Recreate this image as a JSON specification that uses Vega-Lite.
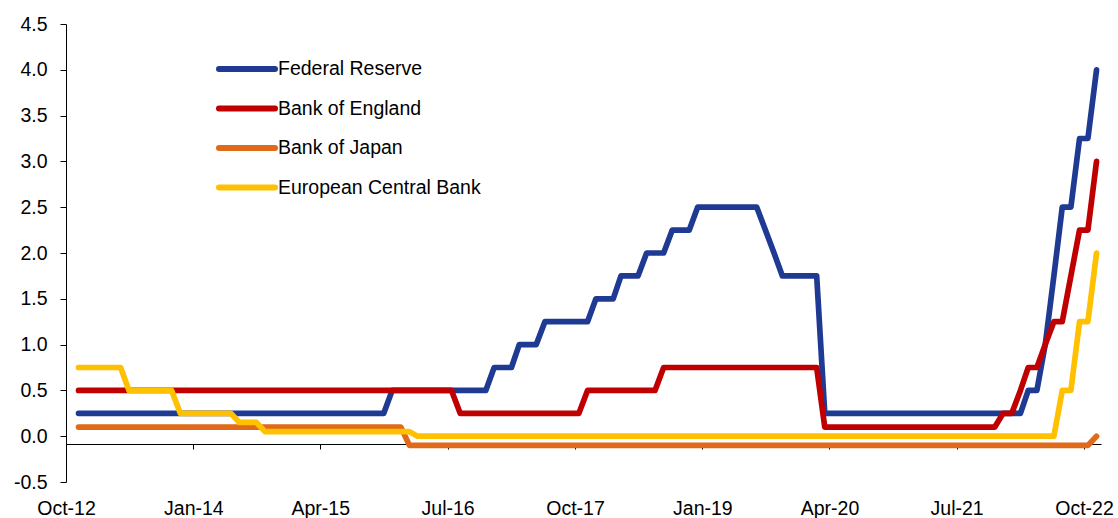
{
 "$schema": "https://vega.github.io/schema/vega-lite/v6.json",
 "width": 1035, "height": 458,
 "autosize": {"type": "none"},
 "padding": {"left": 66, "top": 24, "right": 17, "bottom": 36},
 "background": "white",
 "config": {"view": {"stroke": null}, "font": "Liberation Sans"},
 "data": {"values": [
  {"month":"2012-11-15","fed":0.25,"boe":0.5,"boj":0.1,"ecb":0.75},
  {"month":"2012-12-15","fed":0.25,"boe":0.5,"boj":0.1,"ecb":0.75},
  {"month":"2013-01-15","fed":0.25,"boe":0.5,"boj":0.1,"ecb":0.75},
  {"month":"2013-02-15","fed":0.25,"boe":0.5,"boj":0.1,"ecb":0.75},
  {"month":"2013-03-15","fed":0.25,"boe":0.5,"boj":0.1,"ecb":0.75},
  {"month":"2013-04-15","fed":0.25,"boe":0.5,"boj":0.1,"ecb":0.75},
  {"month":"2013-05-15","fed":0.25,"boe":0.5,"boj":0.1,"ecb":0.5},
  {"month":"2013-06-15","fed":0.25,"boe":0.5,"boj":0.1,"ecb":0.5},
  {"month":"2013-07-15","fed":0.25,"boe":0.5,"boj":0.1,"ecb":0.5},
  {"month":"2013-08-15","fed":0.25,"boe":0.5,"boj":0.1,"ecb":0.5},
  {"month":"2013-09-15","fed":0.25,"boe":0.5,"boj":0.1,"ecb":0.5},
  {"month":"2013-10-15","fed":0.25,"boe":0.5,"boj":0.1,"ecb":0.5},
  {"month":"2013-11-15","fed":0.25,"boe":0.5,"boj":0.1,"ecb":0.25},
  {"month":"2013-12-15","fed":0.25,"boe":0.5,"boj":0.1,"ecb":0.25},
  {"month":"2014-01-15","fed":0.25,"boe":0.5,"boj":0.1,"ecb":0.25},
  {"month":"2014-02-15","fed":0.25,"boe":0.5,"boj":0.1,"ecb":0.25},
  {"month":"2014-03-15","fed":0.25,"boe":0.5,"boj":0.1,"ecb":0.25},
  {"month":"2014-04-15","fed":0.25,"boe":0.5,"boj":0.1,"ecb":0.25},
  {"month":"2014-05-15","fed":0.25,"boe":0.5,"boj":0.1,"ecb":0.25},
  {"month":"2014-06-15","fed":0.25,"boe":0.5,"boj":0.1,"ecb":0.15},
  {"month":"2014-07-15","fed":0.25,"boe":0.5,"boj":0.1,"ecb":0.15},
  {"month":"2014-08-15","fed":0.25,"boe":0.5,"boj":0.1,"ecb":0.15},
  {"month":"2014-09-15","fed":0.25,"boe":0.5,"boj":0.1,"ecb":0.05},
  {"month":"2014-10-15","fed":0.25,"boe":0.5,"boj":0.1,"ecb":0.05},
  {"month":"2014-11-15","fed":0.25,"boe":0.5,"boj":0.1,"ecb":0.05},
  {"month":"2014-12-15","fed":0.25,"boe":0.5,"boj":0.1,"ecb":0.05},
  {"month":"2015-01-15","fed":0.25,"boe":0.5,"boj":0.1,"ecb":0.05},
  {"month":"2015-02-15","fed":0.25,"boe":0.5,"boj":0.1,"ecb":0.05},
  {"month":"2015-03-15","fed":0.25,"boe":0.5,"boj":0.1,"ecb":0.05},
  {"month":"2015-04-15","fed":0.25,"boe":0.5,"boj":0.1,"ecb":0.05},
  {"month":"2015-05-15","fed":0.25,"boe":0.5,"boj":0.1,"ecb":0.05},
  {"month":"2015-06-15","fed":0.25,"boe":0.5,"boj":0.1,"ecb":0.05},
  {"month":"2015-07-15","fed":0.25,"boe":0.5,"boj":0.1,"ecb":0.05},
  {"month":"2015-08-15","fed":0.25,"boe":0.5,"boj":0.1,"ecb":0.05},
  {"month":"2015-09-15","fed":0.25,"boe":0.5,"boj":0.1,"ecb":0.05},
  {"month":"2015-10-15","fed":0.25,"boe":0.5,"boj":0.1,"ecb":0.05},
  {"month":"2015-11-15","fed":0.25,"boe":0.5,"boj":0.1,"ecb":0.05},
  {"month":"2015-12-15","fed":0.5,"boe":0.5,"boj":0.1,"ecb":0.05},
  {"month":"2016-01-15","fed":0.5,"boe":0.5,"boj":0.1,"ecb":0.05},
  {"month":"2016-02-15","fed":0.5,"boe":0.5,"boj":-0.1,"ecb":0.05},
  {"month":"2016-03-15","fed":0.5,"boe":0.5,"boj":-0.1,"ecb":0},
  {"month":"2016-04-15","fed":0.5,"boe":0.5,"boj":-0.1,"ecb":0},
  {"month":"2016-05-15","fed":0.5,"boe":0.5,"boj":-0.1,"ecb":0},
  {"month":"2016-06-15","fed":0.5,"boe":0.5,"boj":-0.1,"ecb":0},
  {"month":"2016-07-15","fed":0.5,"boe":0.5,"boj":-0.1,"ecb":0},
  {"month":"2016-08-15","fed":0.5,"boe":0.25,"boj":-0.1,"ecb":0},
  {"month":"2016-09-15","fed":0.5,"boe":0.25,"boj":-0.1,"ecb":0},
  {"month":"2016-10-15","fed":0.5,"boe":0.25,"boj":-0.1,"ecb":0},
  {"month":"2016-11-15","fed":0.5,"boe":0.25,"boj":-0.1,"ecb":0},
  {"month":"2016-12-15","fed":0.75,"boe":0.25,"boj":-0.1,"ecb":0},
  {"month":"2017-01-15","fed":0.75,"boe":0.25,"boj":-0.1,"ecb":0},
  {"month":"2017-02-15","fed":0.75,"boe":0.25,"boj":-0.1,"ecb":0},
  {"month":"2017-03-15","fed":1.0,"boe":0.25,"boj":-0.1,"ecb":0},
  {"month":"2017-04-15","fed":1.0,"boe":0.25,"boj":-0.1,"ecb":0},
  {"month":"2017-05-15","fed":1.0,"boe":0.25,"boj":-0.1,"ecb":0},
  {"month":"2017-06-15","fed":1.25,"boe":0.25,"boj":-0.1,"ecb":0},
  {"month":"2017-07-15","fed":1.25,"boe":0.25,"boj":-0.1,"ecb":0},
  {"month":"2017-08-15","fed":1.25,"boe":0.25,"boj":-0.1,"ecb":0},
  {"month":"2017-09-15","fed":1.25,"boe":0.25,"boj":-0.1,"ecb":0},
  {"month":"2017-10-15","fed":1.25,"boe":0.25,"boj":-0.1,"ecb":0},
  {"month":"2017-11-15","fed":1.25,"boe":0.5,"boj":-0.1,"ecb":0},
  {"month":"2017-12-15","fed":1.5,"boe":0.5,"boj":-0.1,"ecb":0},
  {"month":"2018-01-15","fed":1.5,"boe":0.5,"boj":-0.1,"ecb":0},
  {"month":"2018-02-15","fed":1.5,"boe":0.5,"boj":-0.1,"ecb":0},
  {"month":"2018-03-15","fed":1.75,"boe":0.5,"boj":-0.1,"ecb":0},
  {"month":"2018-04-15","fed":1.75,"boe":0.5,"boj":-0.1,"ecb":0},
  {"month":"2018-05-15","fed":1.75,"boe":0.5,"boj":-0.1,"ecb":0},
  {"month":"2018-06-15","fed":2.0,"boe":0.5,"boj":-0.1,"ecb":0},
  {"month":"2018-07-15","fed":2.0,"boe":0.5,"boj":-0.1,"ecb":0},
  {"month":"2018-08-15","fed":2.0,"boe":0.75,"boj":-0.1,"ecb":0},
  {"month":"2018-09-15","fed":2.25,"boe":0.75,"boj":-0.1,"ecb":0},
  {"month":"2018-10-15","fed":2.25,"boe":0.75,"boj":-0.1,"ecb":0},
  {"month":"2018-11-15","fed":2.25,"boe":0.75,"boj":-0.1,"ecb":0},
  {"month":"2018-12-15","fed":2.5,"boe":0.75,"boj":-0.1,"ecb":0},
  {"month":"2019-01-15","fed":2.5,"boe":0.75,"boj":-0.1,"ecb":0},
  {"month":"2019-02-15","fed":2.5,"boe":0.75,"boj":-0.1,"ecb":0},
  {"month":"2019-03-15","fed":2.5,"boe":0.75,"boj":-0.1,"ecb":0},
  {"month":"2019-04-15","fed":2.5,"boe":0.75,"boj":-0.1,"ecb":0},
  {"month":"2019-05-15","fed":2.5,"boe":0.75,"boj":-0.1,"ecb":0},
  {"month":"2019-06-15","fed":2.5,"boe":0.75,"boj":-0.1,"ecb":0},
  {"month":"2019-07-15","fed":2.5,"boe":0.75,"boj":-0.1,"ecb":0},
  {"month":"2019-08-15","fed":2.25,"boe":0.75,"boj":-0.1,"ecb":0},
  {"month":"2019-09-15","fed":2.0,"boe":0.75,"boj":-0.1,"ecb":0},
  {"month":"2019-10-15","fed":1.75,"boe":0.75,"boj":-0.1,"ecb":0},
  {"month":"2019-11-15","fed":1.75,"boe":0.75,"boj":-0.1,"ecb":0},
  {"month":"2019-12-15","fed":1.75,"boe":0.75,"boj":-0.1,"ecb":0},
  {"month":"2020-01-15","fed":1.75,"boe":0.75,"boj":-0.1,"ecb":0},
  {"month":"2020-02-15","fed":1.75,"boe":0.75,"boj":-0.1,"ecb":0},
  {"month":"2020-03-15","fed":0.25,"boe":0.1,"boj":-0.1,"ecb":0},
  {"month":"2020-04-15","fed":0.25,"boe":0.1,"boj":-0.1,"ecb":0},
  {"month":"2020-05-15","fed":0.25,"boe":0.1,"boj":-0.1,"ecb":0},
  {"month":"2020-06-15","fed":0.25,"boe":0.1,"boj":-0.1,"ecb":0},
  {"month":"2020-07-15","fed":0.25,"boe":0.1,"boj":-0.1,"ecb":0},
  {"month":"2020-08-15","fed":0.25,"boe":0.1,"boj":-0.1,"ecb":0},
  {"month":"2020-09-15","fed":0.25,"boe":0.1,"boj":-0.1,"ecb":0},
  {"month":"2020-10-15","fed":0.25,"boe":0.1,"boj":-0.1,"ecb":0},
  {"month":"2020-11-15","fed":0.25,"boe":0.1,"boj":-0.1,"ecb":0},
  {"month":"2020-12-15","fed":0.25,"boe":0.1,"boj":-0.1,"ecb":0},
  {"month":"2021-01-15","fed":0.25,"boe":0.1,"boj":-0.1,"ecb":0},
  {"month":"2021-02-15","fed":0.25,"boe":0.1,"boj":-0.1,"ecb":0},
  {"month":"2021-03-15","fed":0.25,"boe":0.1,"boj":-0.1,"ecb":0},
  {"month":"2021-04-15","fed":0.25,"boe":0.1,"boj":-0.1,"ecb":0},
  {"month":"2021-05-15","fed":0.25,"boe":0.1,"boj":-0.1,"ecb":0},
  {"month":"2021-06-15","fed":0.25,"boe":0.1,"boj":-0.1,"ecb":0},
  {"month":"2021-07-15","fed":0.25,"boe":0.1,"boj":-0.1,"ecb":0},
  {"month":"2021-08-15","fed":0.25,"boe":0.1,"boj":-0.1,"ecb":0},
  {"month":"2021-09-15","fed":0.25,"boe":0.1,"boj":-0.1,"ecb":0},
  {"month":"2021-10-15","fed":0.25,"boe":0.1,"boj":-0.1,"ecb":0},
  {"month":"2021-11-15","fed":0.25,"boe":0.1,"boj":-0.1,"ecb":0},
  {"month":"2021-12-15","fed":0.25,"boe":0.25,"boj":-0.1,"ecb":0},
  {"month":"2022-01-15","fed":0.25,"boe":0.25,"boj":-0.1,"ecb":0},
  {"month":"2022-02-15","fed":0.25,"boe":0.5,"boj":-0.1,"ecb":0},
  {"month":"2022-03-15","fed":0.5,"boe":0.75,"boj":-0.1,"ecb":0},
  {"month":"2022-04-15","fed":0.5,"boe":0.75,"boj":-0.1,"ecb":0},
  {"month":"2022-05-15","fed":1.0,"boe":1.0,"boj":-0.1,"ecb":0},
  {"month":"2022-06-15","fed":1.75,"boe":1.25,"boj":-0.1,"ecb":0},
  {"month":"2022-07-15","fed":2.5,"boe":1.25,"boj":-0.1,"ecb":0.5},
  {"month":"2022-08-15","fed":2.5,"boe":1.75,"boj":-0.1,"ecb":0.5},
  {"month":"2022-09-15","fed":3.25,"boe":2.25,"boj":-0.1,"ecb":1.25},
  {"month":"2022-10-15","fed":3.25,"boe":2.25,"boj":-0.1,"ecb":1.25},
  {"month":"2022-11-15","fed":4.0,"boe":3.0,"boj":0.0,"ecb":2.0}
 ]},
 "transform": [{"fold": ["fed", "boe", "boj", "ecb"], "as": ["bank", "rate"]}],
 "mark": {"type": "line", "strokeWidth": 5.7, "strokeCap": "round", "strokeJoin": "round"},
 "encoding": {
  "x": {"field": "month", "type": "temporal",
   "scale": {"domain": [{"year": 2012, "month": 10, "date": 1}, {"year": 2022, "month": 12, "date": 1}]},
   "axis": {"title": null, "grid": false, "format": "%b-%y",
    "values": [{"year": 2012, "month": 10, "date": 1}, {"year": 2014, "month": 1, "date": 1}, {"year": 2015, "month": 4, "date": 1}, {"year": 2016, "month": 7, "date": 1}, {"year": 2017, "month": 10, "date": 1}, {"year": 2019, "month": 1, "date": 1}, {"year": 2020, "month": 4, "date": 1}, {"year": 2021, "month": 7, "date": 1}, {"year": 2022, "month": 10, "date": 1}],
    "offset": -38, "tickSize": 5, "tickColor": "#000", "domainColor": "#000",
    "labelPadding": 50, "labelFontSize": 19.5, "labelColor": "#000", "labelDx": 3,
    "labelFlush": false, "labelOverlap": false}},
  "y": {"field": "rate", "type": "quantitative",
   "scale": {"domain": [-0.5, 4.5], "nice": false, "zero": false},
   "axis": {"title": null, "grid": false,
    "values": [-0.5, 0, 0.5, 1, 1.5, 2, 2.5, 3, 3.5, 4, 4.5],
    "labelExpr": "datum.value < 0 ? '-' + format(-datum.value, '.1f') : format(datum.value, '.1f')",
    "tickSize": 6, "tickColor": "#000", "domainColor": "#000",
    "labelPadding": 13, "labelFontSize": 19.5, "labelColor": "#000"}},
  "color": {"field": "bank", "type": "nominal",
   "scale": {"domain": ["fed", "boe", "boj", "ecb"], "range": ["#1F3A93", "#C00000", "#E0691A", "#FFC000"]},
   "legend": {"orient": "none", "legendX": 162, "legendY": 26, "title": null,
    "symbolType": "M-1.75,0H1.75", "symbolSize": 1024, "symbolStrokeWidth": 6,
    "labelFontSize": 19.5, "labelColor": "#000", "labelOffset": 12, "labelLimit": 0, "rowPadding": 8.5, "padding": 0,
    "encode": {"symbols": {"update": {"strokeCap": {"value": "round"}}}},
    "labelExpr": "datum.label == 'fed' ? 'Federal Reserve' : datum.label == 'boe' ? 'Bank of England' : datum.label == 'boj' ? 'Bank of Japan' : 'European Central Bank'"}}
 }
}
